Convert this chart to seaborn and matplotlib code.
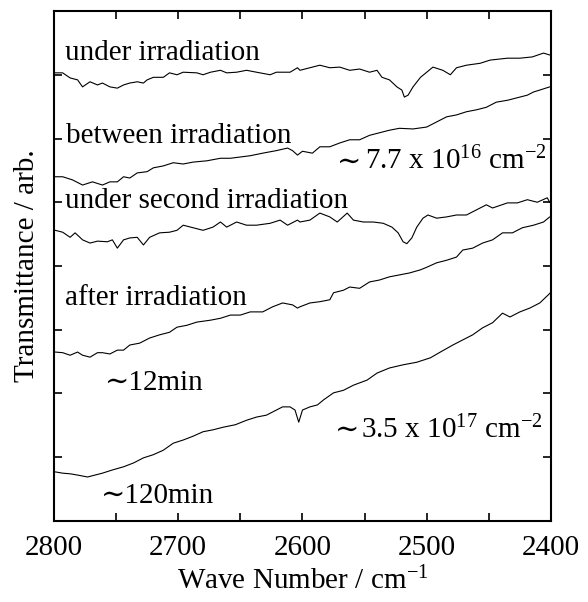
import numpy as np
import pandas as pd
import matplotlib
matplotlib.use('Agg')
import matplotlib.pyplot as plt
import seaborn as sns

# 各スペクトル (波数, 透過率[任意単位, オフセット込み])
wn_under = [2799, 2793, 2787, 2781, 2777, 2771, 2765, 2761, 2755, 2749, 2744, 2739, 2733, 2728,
            2725, 2720, 2712, 2707, 2701, 2696, 2685, 2680, 2674, 2666, 2661, 2653, 2645, 2637,
            2626, 2621, 2610, 2604, 2602, 2594, 2586, 2578, 2570, 2562, 2554, 2546, 2540, 2536,
            2530, 2524, 2520, 2518, 2515, 2511, 2505, 2500, 2495, 2487, 2481, 2476, 2468, 2457,
            2449, 2435, 2425, 2415, 2406, 2401]
tr_under = [7.03, 7.03, 6.95, 6.92, 6.81, 6.89, 6.84, 6.87, 6.81, 6.79, 6.84, 6.87, 6.89, 6.87,
            6.92, 6.96, 6.96, 7.03, 7.00, 7.04, 7.03, 7.00, 7.04, 7.07, 7.03, 7.04, 7.07, 7.04,
            7.00, 7.04, 7.04, 7.11, 7.07, 7.11, 7.15, 7.11, 7.12, 7.07, 7.09, 7.04, 7.07, 6.96,
            6.92, 6.81, 6.76, 6.65, 6.68, 6.81, 6.96, 7.04, 7.12, 7.07, 7.00, 7.11, 7.15, 7.18,
            7.23, 7.26, 7.26, 7.28, 7.34, 7.31]

wn_between = [2799, 2793, 2785, 2777, 2769, 2761, 2755, 2749, 2744, 2739, 2733, 2725, 2720, 2712,
              2704, 2696, 2688, 2677, 2666, 2658, 2650, 2642, 2632, 2621, 2612, 2608, 2604, 2600,
              2592, 2586, 2578, 2570, 2562, 2554, 2546, 2538, 2530, 2522, 2511, 2500, 2492, 2484,
              2476, 2468, 2460, 2452, 2444, 2435, 2427, 2419, 2414, 2409, 2401]
tr_between = [5.40, 5.40, 5.35, 5.27, 5.32, 5.27, 5.32, 5.32, 5.40, 5.38, 5.46, 5.48, 5.54, 5.57,
              5.62, 5.60, 5.63, 5.65, 5.69, 5.69, 5.71, 5.73, 5.77, 5.81, 5.85, 5.81, 5.74, 5.80,
              5.77, 5.87, 5.87, 5.93, 5.98, 5.98, 6.05, 6.09, 6.13, 6.16, 6.15, 6.18, 6.26, 6.34,
              6.37, 6.42, 6.45, 6.49, 6.57, 6.60, 6.64, 6.68, 6.73, 6.76, 6.81]

wn_second = [2799, 2793, 2787, 2783, 2777, 2771, 2765, 2757, 2753, 2749, 2744, 2739, 2733, 2728,
             2723, 2715, 2707, 2701, 2696, 2688, 2680, 2672, 2666, 2661, 2653, 2645, 2637, 2626,
             2618, 2612, 2604, 2602, 2594, 2586, 2578, 2572, 2564, 2559, 2551, 2543, 2535, 2528,
             2523, 2519, 2516, 2512, 2508, 2503, 2499, 2492, 2484, 2476, 2468, 2460, 2452, 2447,
             2435, 2427, 2419, 2411, 2403, 2401]
tr_second = [4.56, 4.53, 4.45, 4.52, 4.41, 4.36, 4.39, 4.38, 4.41, 4.28, 4.41, 4.44, 4.45, 4.33,
             4.45, 4.52, 4.53, 4.56, 4.64, 4.60, 4.56, 4.61, 4.69, 4.61, 4.69, 4.64, 4.64, 4.67,
             4.72, 4.64, 4.72, 4.69, 4.72, 4.83, 4.77, 4.69, 4.83, 4.72, 4.69, 4.69, 4.67, 4.61,
             4.52, 4.38, 4.35, 4.44, 4.61, 4.75, 4.80, 4.75, 4.77, 4.80, 4.80, 4.88, 4.96, 4.91,
             4.99, 4.99, 5.04, 5.00, 5.07, 5.00]

wn_after = [2799, 2793, 2787, 2781, 2777, 2771, 2765, 2761, 2755, 2749, 2744, 2739, 2731, 2723,
            2715, 2707, 2701, 2693, 2685, 2674, 2666, 2658, 2650, 2642, 2632, 2624, 2616, 2608,
            2604, 2602, 2594, 2586, 2578, 2575, 2567, 2562, 2554, 2546, 2538, 2530, 2522, 2514,
            2505, 2500, 2492, 2484, 2476, 2471, 2463, 2455, 2447, 2439, 2431, 2423, 2414, 2406,
            2401]
tr_after = [2.65, 2.64, 2.60, 2.65, 2.60, 2.57, 2.64, 2.64, 2.62, 2.68, 2.68, 2.76, 2.79, 2.87,
            2.92, 2.96, 3.04, 3.07, 3.12, 3.15, 3.18, 3.23, 3.23, 3.28, 3.28, 3.36, 3.42, 3.39,
            3.34, 3.36, 3.42, 3.44, 3.47, 3.58, 3.62, 3.67, 3.65, 3.75, 3.78, 3.83, 3.86, 3.89,
            3.94, 3.98, 4.05, 4.09, 4.14, 4.25, 4.28, 4.36, 4.41, 4.52, 4.52, 4.60, 4.64, 4.69,
            4.77]

wn_120 = [2799, 2793, 2787, 2781, 2773, 2767, 2761, 2753, 2744, 2736, 2728, 2720, 2712, 2704,
          2696, 2688, 2680, 2672, 2664, 2654, 2645, 2637, 2629, 2621, 2616, 2610, 2606, 2603,
          2600, 2594, 2588, 2583, 2575, 2567, 2559, 2548, 2540, 2530, 2519, 2508, 2497, 2489,
          2479, 2471, 2463, 2455, 2447, 2439, 2433, 2425, 2417, 2409, 2402, 2400]
tr_120 = [0.77, 0.75, 0.74, 0.72, 0.69, 0.72, 0.75, 0.80, 0.85, 0.91, 0.99, 1.04, 1.11, 1.22,
          1.27, 1.33, 1.40, 1.43, 1.47, 1.51, 1.58, 1.63, 1.66, 1.74, 1.79, 1.79, 1.74, 1.55,
          1.74, 1.79, 1.82, 1.90, 2.01, 2.05, 2.13, 2.21, 2.32, 2.40, 2.45, 2.49, 2.56, 2.65,
          2.76, 2.84, 2.92, 3.03, 3.11, 3.26, 3.20, 3.28, 3.34, 3.42, 3.55, 3.59]

x_major = [2800, 2700, 2600, 2500, 2400]
x_minor = [2750, 2650, 2550, 2450]
y_ticks = [0, 1, 2, 3, 4, 5, 6, 7, 8]

sns.set_theme(style='ticks')
plt.rcParams['font.family'] = ['Liberation Serif', 'DejaVu Serif']
plt.rcParams['mathtext.default'] = 'regular'
plt.rcParams['text.color'] = 'black'
plt.rcParams['axes.labelcolor'] = 'black'

fig = plt.figure(figsize=(5.88, 6.02), dpi=100)
ax = fig.add_axes([0.0918, 0.1346, 0.8452, 0.8471])

traces = [(wn_under, tr_under), (wn_between, tr_between), (wn_second, tr_second),
          (wn_after, tr_after), (wn_120, tr_120)]
for wn, tr in traces:
    df = pd.DataFrame({'wn': wn, 'tr': tr})
    sns.lineplot(data=df, x='wn', y='tr', color='black', linewidth=0.8, sort=False,
                 estimator=None, ax=ax)

ax.set_xlim(2800, 2400)
ax.set_ylim(0, 8)
ax.set_xticks(x_major)
ax.set_xticks(x_minor, minor=True)
ax.set_yticks(y_ticks)
ax.set_yticklabels([])
ax.tick_params(which='both', direction='in', top=True, right=True, length=6, width=1.2,
               color='black', labelsize=21, labelcolor='black', pad=10)
for sp in ax.spines.values():
    sp.set_linewidth(1.5)
    sp.set_color('black')

ax.set_xlabel('Wave Number / cm$^{-1}$', fontsize=21, labelpad=4)
ax.set_ylabel('Transmittance / arb.', fontsize=21, labelpad=0)

fs = 21
ax.text(2791, 7.23, 'under irradiation', fontsize=fs, va='baseline')
ax.text(2790, 5.93, 'between irradiation', fontsize=fs, va='baseline')
ax.text(2572, 5.51, '\u223c', fontsize=fs, va='baseline')
ax.text(2550, 5.51, '7.7 x 10$^{16}$ cm$^{-2}$', fontsize=fs, va='baseline')
ax.text(2791, 4.91, 'under second irradiation', fontsize=fs, va='baseline')
ax.text(2791, 3.39, 'after irradiation', fontsize=fs, va='baseline')
ax.text(2759, 2.05, '\u223c12min', fontsize=fs, va='baseline')
ax.text(2762, 0.28, '\u223c120min', fontsize=fs, va='baseline')
ax.text(2574, 1.30, '\u223c', fontsize=fs, va='baseline')
ax.text(2553, 1.30, '3.5 x 10$^{17}$ cm$^{-2}$', fontsize=fs, va='baseline')

fig.savefig('out.png', dpi=100)
